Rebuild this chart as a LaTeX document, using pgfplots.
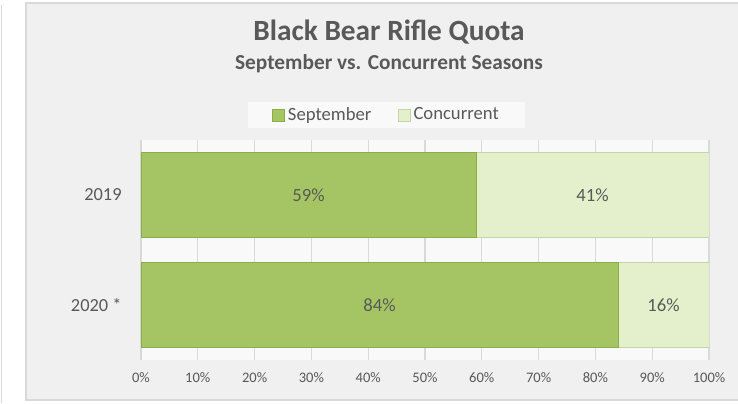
\documentclass[border=0pt]{standalone}
\usepackage{pgfplots}
\pgfplotsset{compat=1.18}
\usepackage{fontspec}
\setmainfont{Carlito}

\definecolor{chartbg}{HTML}{F0F0F0}
\definecolor{plotbg}{HTML}{F9F9F9}
\definecolor{gridcol}{HTML}{D9D9D9}
\definecolor{framecol}{HTML}{D9D9D9}
\definecolor{txt}{HTML}{595959}
\definecolor{sept}{HTML}{A5C564}
\definecolor{septedge}{HTML}{8AAE45}
\definecolor{conc}{HTML}{E3F0CB}
\definecolor{concedge}{HTML}{C5D6A6}

\begin{document}
\begin{tikzpicture}[x=0.75pt,y=0.75pt]
\useasboundingbox (0,0) rectangle (738,403);
\fill[white] (0,0) rectangle (738,403);
\draw[gridcol,line width=1.2pt] (1.5,0) -- (1.5,398);
\draw[framecol,line width=1.5pt,fill=chartbg] (25.5,3) rectangle (745,400);

\node[anchor=base,text=txt,font=\bfseries\fontsize{22}{26}\selectfont] at (389,362) {Black Bear Rifle Quota};
\node[anchor=base,text=txt,font=\bfseries\fontsize{16}{19}\selectfont] at (389,333) {September vs. Concurrent Seasons};

\begin{axis}[
  at={(105.75pt,32.25pt)}, anchor=south west,
  scale only axis,
  width=426pt, height=165pt,
  xbar stacked,
  bar width=63.75pt,
  xmin=0, xmax=100,
  ymin=-0.5, ymax=1.5,
  ytick={0,1},
  yticklabels={2020 *,2019},
  xtick={0,10,...,100},
  xticklabel={\pgfmathprintnumber{\tick}\%},
  /pgf/number format/assume math mode=true,
  xmajorgrids,
  grid style={gridcol,line width=0.8pt},
  axis line style={draw=none},
  tick style={draw=none},
  axis background/.style={fill=plotbg},
  xticklabel style={text=txt,font=\fontsize{10.9}{13}\selectfont,yshift=-6pt},
  yticklabel style={text=txt,font=\fontsize{13.8}{16}\selectfont,xshift=-11pt},
  visualization depends on=rawx \as \rawx,
  nodes near coords={\pgfmathprintnumber{\rawx}\%},
  nodes near coords style={anchor=center,text=txt,
    font=\fontsize{14}{17}\selectfont},
  legend columns=2,
  legend style={at={(0.433,1.114)},anchor=center,draw=none,fill=plotbg,
    font=\fontsize{14}{17}\selectfont,text=txt,
    inner xsep=18pt,inner ysep=2pt,
    /tikz/every even column/.append style={column sep=18pt}},
  legend image code/.code={\fill[#1] (0pt,-4.5pt) rectangle (9pt,4.5pt);},
]
\addplot[fill=sept,draw=septedge,line width=0.6pt] coordinates {(84,0) (59,1)};
\addplot[fill=conc,draw=concedge,line width=0.6pt] coordinates {(16,0) (41,1)};
\legend{September,Concurrent}
\end{axis}
\end{tikzpicture}
\end{document}
